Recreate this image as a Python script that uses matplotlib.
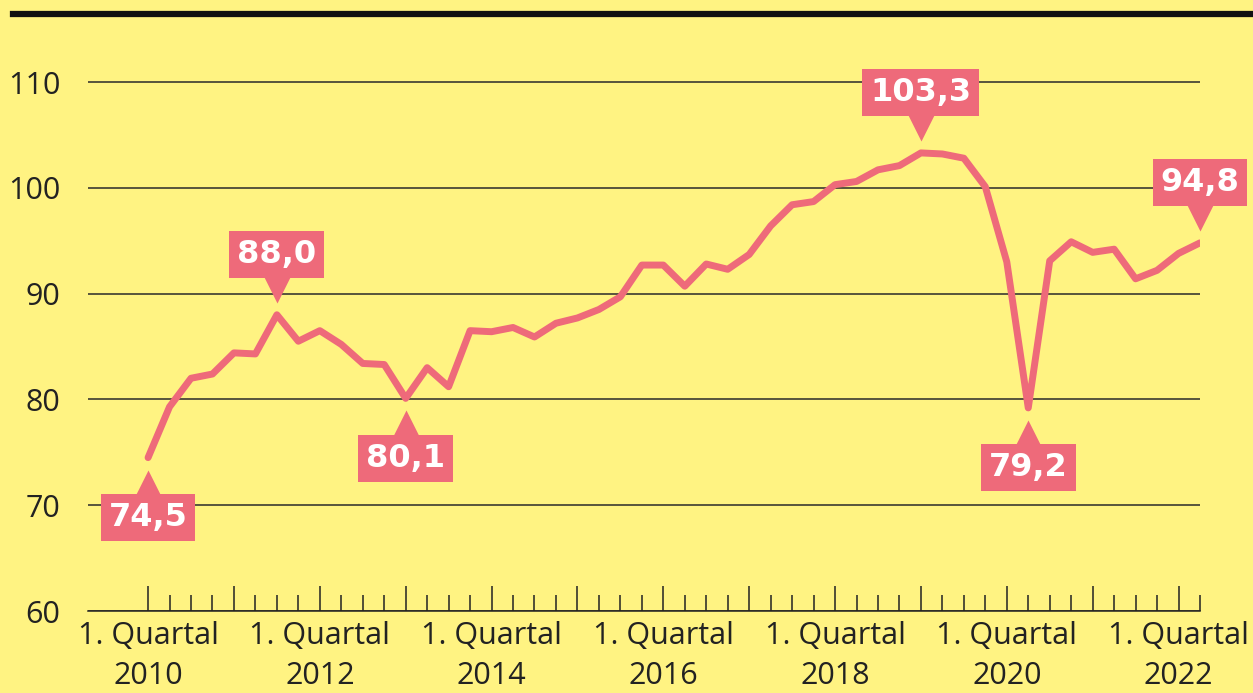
import numpy as np
import matplotlib.pyplot as plt
from matplotlib.lines import Line2D
from matplotlib.transforms import offset_copy

# Index values per quarter, 1. Quartal 2010 .. 2. Quartal 2022
values = [74.5, 79.3, 82.0, 82.4, 84.4, 84.3, 88.0, 85.5, 86.5, 85.2,
          83.4, 83.3, 80.1, 83.0, 81.2, 86.5, 86.4, 86.8, 85.9, 87.2,
          87.7, 88.5, 89.7, 92.7, 92.7, 90.7, 92.8, 92.3, 93.7, 96.4,
          98.4, 98.7, 100.3, 100.6, 101.7, 102.1, 103.3, 103.2, 102.8, 100.1,
          93.0, 79.2, 93.1, 94.9, 93.9, 94.2, 91.4, 92.2, 93.8, 94.8]
years = list(range(2010, 2023, 2))
# which points get a label, and whether the box sits above or below
callouts = [(0, 'below'), (6, 'above'), (12, 'below'),
            (36, 'above'), (41, 'below'), (49, 'above')]
yticks = [60, 70, 80, 90, 100, 110]

bg = '#fff382'
pink = '#ee6a7a'
dark = '#222222'

plt.rcParams['font.family'] = ['Open Sans', 'DejaVu Sans']

fig = plt.figure(figsize=(12.53, 6.93), dpi=100, facecolor=bg)
ax = fig.add_axes([0.0702, 0.1183, 0.8875, 0.8244], facecolor=bg)

x = np.arange(len(values))
ax.plot(x, values, color=pink, lw=5, solid_joinstyle='round',
        solid_capstyle='round', zorder=3)

ax.set_xlim(-2.8, len(values) - 1)
ax.set_ylim(60, 114)

# y axis: gridlines only, labels on the left
ax.set_yticks(yticks)
ax.set_yticklabels([str(v) for v in yticks], fontsize=22, color=dark)
ax.tick_params(axis='y', length=0, pad=20)
ax.yaxis.grid(True, color='#2a2a2a', lw=1.1)
ax.set_axisbelow(True)

# x axis: a tick every quarter, long ones at the 1. quarter
ax.set_xticks(np.arange(0, len(values), 4))
ax.set_xticks([i for i in x if i % 4 != 0], minor=True)
labels = []
for i in range(0, len(values), 4):
    if i % 8 == 0:
        labels.append('1. Quartal\n%d' % (2010 + i // 4))
    else:
        labels.append('')
ax.set_xticklabels(labels, fontsize=22, color=dark, linespacing=1.45)
ax.tick_params(axis='x', which='major', direction='in', length=18,
               width=1.1, color=dark, pad=7)
ax.tick_params(axis='x', which='minor', direction='in', length=11.5,
               width=1.1, color=dark)

for s in ['left', 'right', 'top']:
    ax.spines[s].set_visible(False)
ax.spines['bottom'].set_color(dark)
ax.spines['bottom'].set_linewidth(1.1)

# callout boxes with a small triangle pointing at the value
for i, side in callouts:
    v = values[i]
    sign = 1 if side == 'above' else -1
    tri = offset_copy(ax.transData, fig=fig, x=0, y=sign * 25 * 0.72,
                      units='points')
    ax.plot(i, v, marker='v' if side == 'above' else '^', ms=19,
            color=pink, mec='none', transform=tri, clip_on=False, zorder=4)
    ax.annotate(('%.1f' % v).replace('.', ','), xy=(i, v),
                xytext=(0, sign * 60), textcoords='offset pixels',
                ha='center', va='center', fontsize=23, fontweight='bold',
                family=['DejaVu Sans'], color='white', zorder=5,
                annotation_clip=False,
                bbox=dict(boxstyle='square,pad=0.25', fc=pink, ec='none'))

# heavy rule across the top
fig.add_artist(Line2D([0.01, 1.0], [0.98, 0.98], color='#111111', lw=4.5,
                      transform=fig.transFigure))

fig.savefig('out.png', dpi=100, facecolor=bg)
